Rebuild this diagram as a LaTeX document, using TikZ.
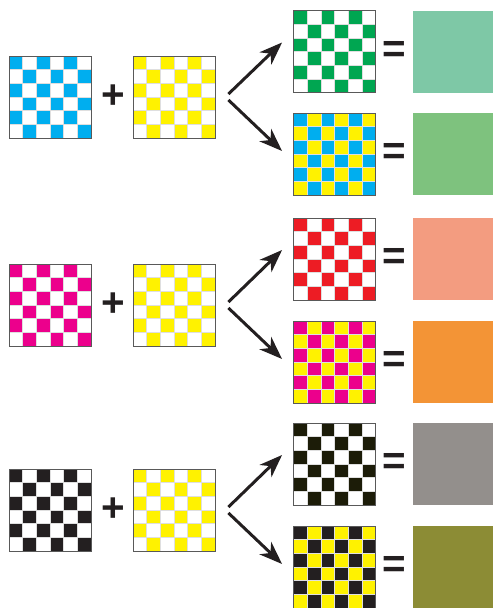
\documentclass[tikz,border=0pt]{standalone}
\usepackage{fontspec}
\usepackage{xcolor}
\usepackage{tikz}
\usetikzlibrary{positioning,arrows.meta,calc}
\newfontfamily\signos{Liberation Sans}
\definecolor{cian}{HTML}{00AEEF}
\definecolor{amarillo}{HTML}{FFF200}
\definecolor{fucsia}{HTML}{EC008C}
\definecolor{verde}{HTML}{00A651}
\definecolor{rojo}{HTML}{ED1C24}
\definecolor{negro}{HTML}{231F20}
\definecolor{negroB}{HTML}{1C1C08}
\definecolor{verdeA}{HTML}{7EC8A6}
\definecolor{verdeB}{HTML}{7EC27E}
\definecolor{salmon}{HTML}{F39C80}
\definecolor{naranja}{HTML}{F39436}
\definecolor{gris}{HTML}{938F8C}
\definecolor{oliva}{HTML}{8C8C35}

\begin{document}
\begin{tikzpicture}[
  x=0.02cm, y=-0.02cm,
  tablero/.style 2 args={draw=gray!70!black, line width=0.5pt, inner sep=0pt,
    minimum size=1.64cm,
    path picture={
      \fill[#2] (-41,-41) rectangle (41,41);
      \foreach \i in {0,...,5}
        \foreach \j in {0,...,5} {
          \pgfmathtruncatemacro\paridad{mod(\i+\j,2)}
          \ifnum\paridad=0 \fill[#1] (-41+\i*13.667,-41+\j*13.667) rectangle ++(13.667,13.667); \fi
        }
      \foreach \k in {1,...,5} {
        \draw[white!75!gray, line width=0.25pt] (-41+\k*13.667,-41) -- ++(0,82);
        \draw[white!75!gray, line width=0.25pt] (-41,-41+\k*13.667) -- ++(82,0);
      }}},
  muestra/.style={inner sep=0pt, minimum width=1.6cm, minimum height=1.64cm},
  signo/.style={font=\signos\bfseries\fontsize{23}{23}\selectfont, text=negro, inner sep=0pt},
  flecha/.style={-{Stealth[length=4.6mm, width=3.4mm, inset=1.4mm]}, line width=1.7pt, negro}
]
  \useasboundingbox (0,0) rectangle (493,608);

  % cian + amarillo
  \node[tablero={cian}{white}] (c1) at (50,97) {};
  \node[signo] (mas1) at (113,97) {+};
  \node[tablero={amarillo}{white}] (a1) at (174,97) {};
  \node[tablero={verde}{white}] (r1) at (334.5,51.5) {};
  \node[tablero={cian}{amarillo}] (r2) at (334.5,154) {};
  \node[signo] (ig1) at (394,51.5) {=};
  \node[signo] (ig2) at (394,154) {=};
  \node[muestra, fill=verdeA] (m1) at (453,52) {};
  \node[muestra, fill=verdeB] (m2) at (453,154) {};
  \draw[flecha] ($(a1.east)+(13,-3)$) -- ($(r1.west)+(-11,-9)$);
  \draw[flecha] ($(a1.east)+(13,3)$) -- ($(r2.west)+(-11,-3)$);

  % fucsia + amarillo
  \node[tablero={fucsia}{white}] (c2) at (50,305) {};
  \node[signo] (mas2) at (113,305) {+};
  \node[tablero={amarillo}{white}] (a2) at (174,305) {};
  \node[tablero={rojo}{white}] (r3) at (334.5,259) {};
  \node[tablero={fucsia}{amarillo}] (r4) at (334.5,362) {};
  \node[signo] (ig3) at (394,259) {=};
  \node[signo] (ig4) at (394,362) {=};
  \node[muestra, fill=salmon] (m3) at (453,259) {};
  \node[muestra, fill=naranja] (m4) at (453,362) {};
  \draw[flecha] ($(a2.east)+(13,-3)$) -- ($(r3.west)+(-11,-9)$);
  \draw[flecha] ($(a2.east)+(13,3)$) -- ($(r4.west)+(-11,-3)$);

  % negro + amarillo
  \node[tablero={negro}{white}] (c3) at (50,510) {};
  \node[signo] (mas3) at (113,510) {+};
  \node[tablero={amarillo}{white}] (a3) at (174,510) {};
  \node[tablero={negroB}{white}] (r5) at (334.5,464) {};
  \node[tablero={negro}{amarillo}] (r6) at (334.5,567) {};
  \node[signo] (ig5) at (394,464) {=};
  \node[signo] (ig6) at (394,567) {=};
  \node[muestra, fill=gris] (m5) at (453,464) {};
  \node[muestra, fill=oliva] (m6) at (453,567) {};
  \draw[flecha] ($(a3.east)+(13,-3)$) -- ($(r5.west)+(-11,-9)$);
  \draw[flecha] ($(a3.east)+(13,3)$) -- ($(r6.west)+(-11,-3)$);
\end{tikzpicture}
\end{document}
